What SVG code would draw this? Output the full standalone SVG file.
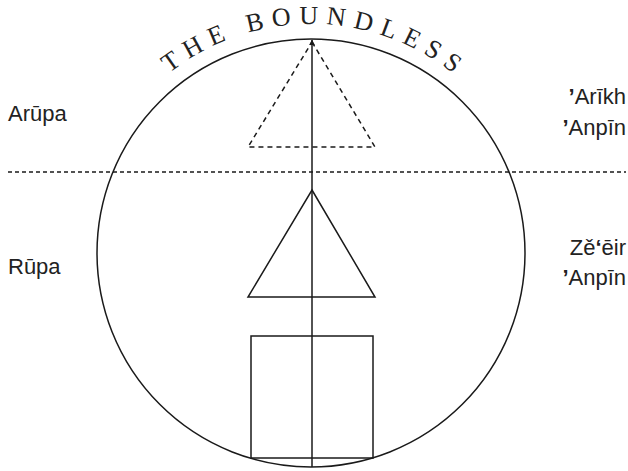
<svg xmlns="http://www.w3.org/2000/svg" width="628" height="471" viewBox="0 0 628 471">
  <style>
    .ln { fill: none; stroke: #1a1a1a; stroke-width: 1.5; }
    .dash { stroke-dasharray: 5 4; }
    .lbl { font-family: "Liberation Sans", Arial, sans-serif; font-size: 22px; fill: #222; }
    .ap { font-weight: bold; }
    .ttl { font-family: "Liberation Serif", "Times New Roman", serif; font-size: 26px; fill: #222; letter-spacing: 8px; }
  </style>
  <defs>
    <marker id="arr" viewBox="0 0 10 10" refX="9" refY="5" markerWidth="6" markerHeight="6" orient="auto" markerUnits="userSpaceOnUse">
      <path d="M0,0 L10,5 L0,10 Z" fill="#1a1a1a"/>
    </marker>
    <path id="arc" d="M 82 253 A 229 229 0 0 1 540 253"/>
  </defs>
  <rect width="628" height="471" fill="#fff"/>

  <g id="boundless">
    <circle class="ln" cx="311" cy="253" r="214" stroke-width="2"/>
    <text class="ttl"><textPath href="#arc" startOffset="50.6%" text-anchor="middle">THE BOUNDLESS</textPath></text>
  </g>

  <g id="divider">
    <line class="ln" x1="8" y1="172" x2="626" y2="172" stroke-width="1" stroke-dasharray="4 3"/>
  </g>

  <g id="dashed-triangle">
    <polygon class="ln dash" points="312,42 375,147 248,147"/>
  </g>

  <g id="solid-triangle">
    <polygon class="ln" points="312,190 375,297 248,297"/>
  </g>

  <g id="box">
    <rect class="ln" x="251" y="336" width="122" height="122"/>
  </g>

  <g id="connectors">
    <line class="ln" x1="312" y1="467" x2="312" y2="40" marker-end="url(#arr)"/>
  </g>

  <g id="labels">
    <text class="lbl" x="8" y="121">Arūpa</text>
    <text class="lbl" x="8" y="274">Rūpa</text>
    <text class="lbl" x="626" y="104" text-anchor="end"><tspan class="ap">’</tspan>Arīkh</text>
    <text class="lbl" x="626" y="135" text-anchor="end"><tspan class="ap">’</tspan>Anpīn</text>
    <text class="lbl" x="626" y="255" text-anchor="end">Zě<tspan class="ap">‘</tspan>ēir</text>
    <text class="lbl" x="626" y="285" text-anchor="end"><tspan class="ap">’</tspan>Anpīn</text>
  </g>
</svg>
